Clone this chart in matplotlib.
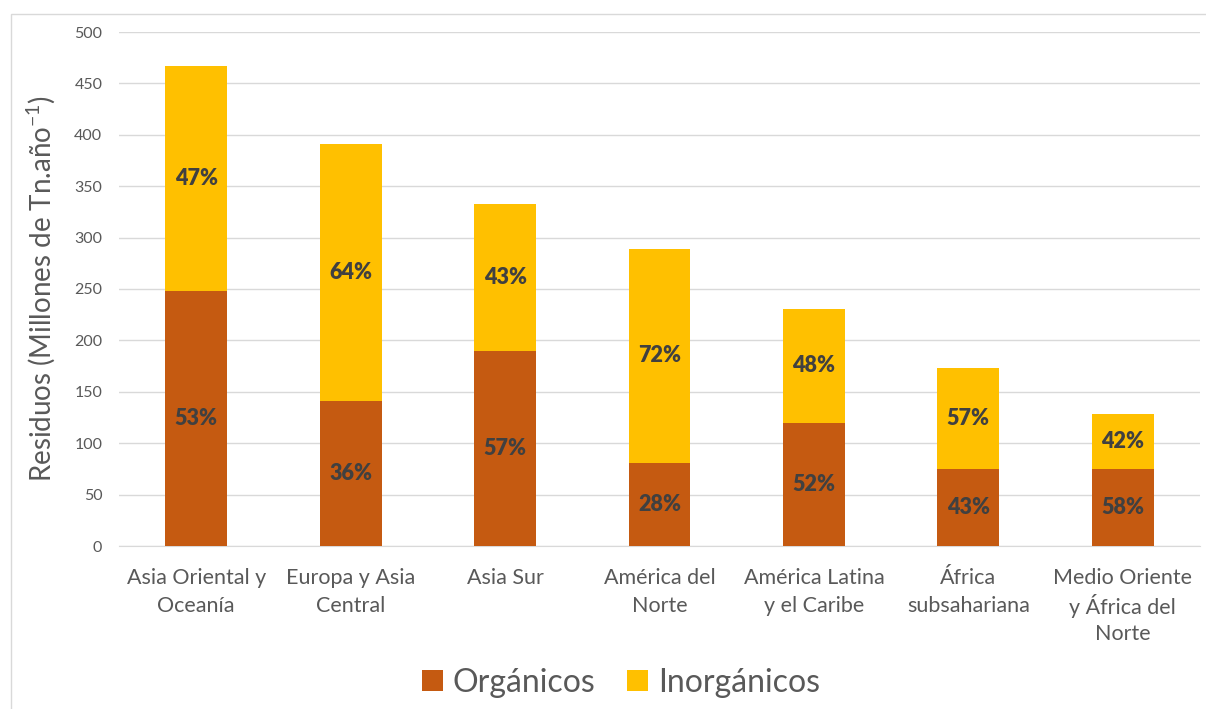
import matplotlib
matplotlib.use("Agg")
import matplotlib.pyplot as plt
from matplotlib.patches import Rectangle
from matplotlib.transforms import blended_transform_factory, offset_copy

plt.rcParams['font.family'] = ['Lato', 'DejaVu Sans']

categories = ["Asia Oriental y\nOceanía", "Europa y Asia\nCentral", "Asia Sur",
              "América del\nNorte", "América Latina\ny el Caribe", "África\nsubsahariana",
              "Medio Oriente\ny África del\nNorte"]
organicos = [248, 141, 190, 81, 120, 75, 75]
inorganicos = [219, 250, 143, 208, 111, 98, 53]
pct_org = ["53%", "36%", "57%", "28%", "52%", "43%", "58%"]
pct_inorg = ["47%", "64%", "43%", "72%", "48%", "57%", "42%"]
yticks = [0, 50, 100, 150, 200, 250, 300, 350, 400, 450, 500]

c_org = "#C55A11"
c_inorg = "#FFC000"
grey = "#595959"

fig = plt.figure(figsize=(12.06, 7.09), dpi=100)
ax = fig.add_axes([119/1206, 1-546/709, (1200-119)/1206, (546-32)/709])

x = list(range(len(categories)))
ax.bar(x, organicos, width=0.4, color=c_org, label="Orgánicos", zorder=3)
ax.bar(x, inorganicos, width=0.4, bottom=organicos, color=c_inorg, label="Inorgánicos", zorder=3)

for i in x:
    ax.text(i, organicos[i]/2, pct_org[i], ha="center", va="center",
            fontsize=15.5, fontweight="heavy", color="#404040", zorder=4)
    ax.text(i, organicos[i] + inorganicos[i]/2, pct_inorg[i], ha="center", va="center",
            fontsize=15.5, fontweight="heavy", color="#404040", zorder=4)

ax.set_xlim(-0.5, len(categories)-0.5)
ax.set_ylim(0, 500)
ax.set_yticks(yticks)
ax.set_yticklabels([str(t) for t in yticks], fontsize=11.5, color=grey)
ax.set_xticks(x)
ax.set_xticklabels([""] * len(x))
ax.tick_params(axis="both", length=0)
ax.tick_params(axis="y", pad=12)
ax.yaxis.grid(True, color="#d9d9d9", linewidth=1, zorder=0)
for s in ["top", "right", "left"]:
    ax.spines[s].set_visible(False)
ax.spines["bottom"].set_color("#d9d9d9")
ax.spines["bottom"].set_zorder(2)

# category labels, line by line for even spacing
trans = blended_transform_factory(ax.transData, ax.transAxes)
for i, lab in enumerate(categories):
    for j, line in enumerate(lab.split("\n")):
        t = offset_copy(trans, fig=fig, x=0, y=-(32 + 28 * j), units="dots")
        ax.text(i, 0, line, transform=t, ha="center", va="center",
                fontsize=15.5, color=grey)

ax.set_ylabel(r"Residuos (Millones de Tn.año$^{\mathregular{-1}}$)", fontsize=20, color=grey, labelpad=12)

leg = fig.legend(loc="center", bbox_to_anchor=(621/1206, 1-683/709), ncol=2, frameon=False,
                 fontsize=23, handlelength=0.65, handleheight=0.65, handletextpad=0.3,
                 columnspacing=1.0)
for t in leg.get_texts():
    t.set_color(grey)

fig.patches.append(Rectangle((11/1206, -0.1), 1.2, 1-14/709+0.1, transform=fig.transFigure,
                             fill=False, edgecolor="#d9d9d9", linewidth=1))

fig.savefig("out.png", dpi=100)
